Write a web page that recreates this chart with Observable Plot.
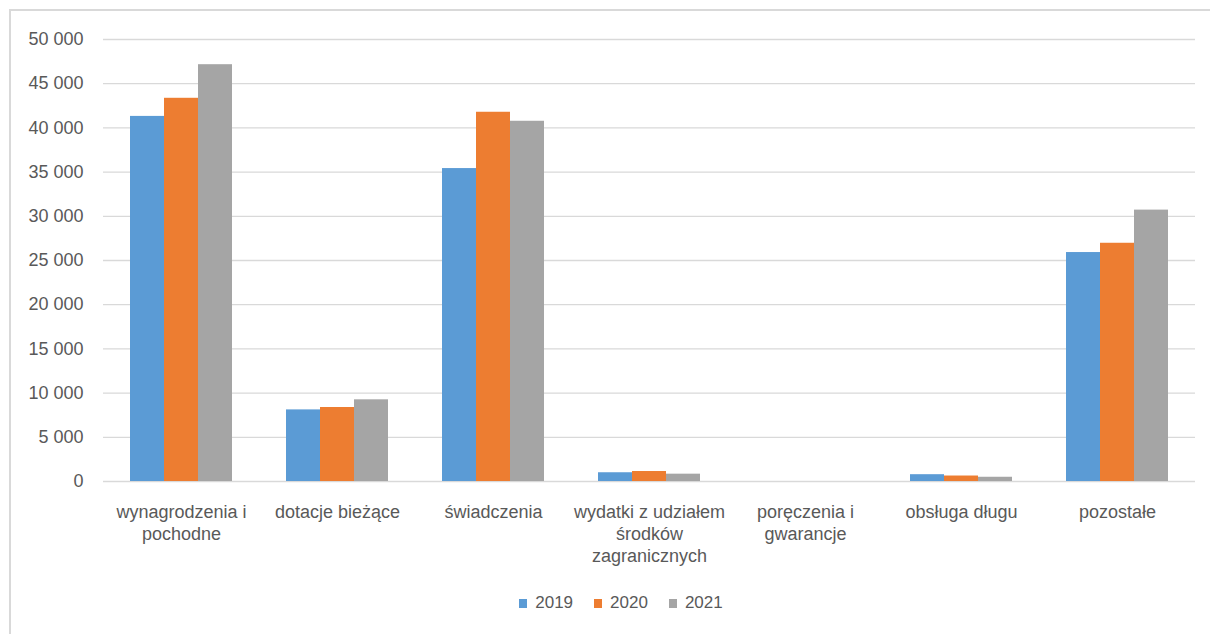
<!DOCTYPE html>
<html>
<head>
<meta charset="utf-8">
<script src="https://cdn.jsdelivr.net/npm/d3@7"></script>
<script src="https://cdn.jsdelivr.net/npm/@observablehq/plot@0.6"></script>
<style>
  html, body { margin: 0; padding: 0; background: #fff; width: 1210px; height: 634px; overflow: hidden; }
  #frame { position: absolute; left: 9px; top: 9px; width: 1300px; height: 700px;
           border-left: 2px solid #d9d9d9; border-top: 2px solid #d9d9d9; }
  #chart { position: absolute; left: 0; top: 0; }
  #legend { position: absolute; left: 0; top: 593px; width: 1242px; display: flex; justify-content: center;
            font-family: "Liberation Sans", Arial, sans-serif; font-size: 17px; color: #595959; }
  .item { display: flex; align-items: center; }
  .item + .item { margin-left: 21px; }
  .sw { width: 8px; height: 9px; margin-right: 8px; }
</style>
</head>
<body>
<div id="frame"></div>
<div id="chart"></div>
<div id="legend"></div>
<script>
const categories = ["wynagrodzenia i pochodne", "dotacje bieżące", "świadczenia",
  "wydatki z udziałem środków zagranicznych", "poręczenia i gwarancje", "obsługa długu", "pozostałe"];
const categoryLabels = ["wynagrodzenia i\npochodne", "dotacje bieżące", "świadczenia",
  "wydatki z udziałem\nśrodków\nzagranicznych", "poręczenia i\ngwarancje", "obsługa długu", "pozostałe"];
const years = ["2019", "2020", "2021"];
const values2019 = [41300, 8100, 35400, 990, 0, 770, 25900];
const values2020 = [43350, 8370, 41770, 1130, 0, 620, 26950];
const values2021 = [47150, 9240, 40750, 830, 0, 480, 30700];
const yTicks = [0, 5000, 10000, 15000, 20000, 25000, 30000, 35000, 40000, 45000, 50000];
const colors = ["#5b9bd5", "#ed7d31", "#a5a5a5"];

const series = [values2019, values2020, values2021];
const rows = [];
categories.forEach((c, i) => years.forEach((y, j) => rows.push({category: c, year: y, value: series[j][i]})));
const labelOf = new Map(categories.map((c, i) => [c, categoryLabels[i]]));
const fmt = d => d3.format(",")(d).replace(/,/g, "\u00a0");

const chart = Plot.plot({
  width: 1210,
  height: 580,
  marginTop: 39,
  marginBottom: 99,
  marginLeft: 102,
  marginRight: 15,
  style: {fontFamily: "Liberation Sans, Arial, sans-serif", fontSize: "18px", color: "#595959", background: "transparent"},
  fx: {domain: categories, padding: 0, axis: null, label: null},
  x: {domain: years, paddingInner: 0, paddingOuter: 0.77, axis: null, label: null},
  y: {domain: [0, 50000], axis: null, label: null},
  color: {domain: years, range: colors},
  marks: [
    Plot.gridY(yTicks, {stroke: "#d9d9d9", strokeOpacity: 1, strokeWidth: 1.3}),
    Plot.barY(rows, {fx: "category", x: "year", y: "value", fill: "year"}),
    Plot.axisY(yTicks, {tickSize: 0, tickPadding: 20, tickFormat: fmt, label: null, fontSize: 18}),
    Plot.axisFx({anchor: "bottom", tickSize: 0, tickPadding: 21, tickFormat: d => labelOf.get(d), label: null, lineHeight: 1.22, fontSize: 18})
  ]
});
document.getElementById("chart").appendChild(chart);

const legend = document.getElementById("legend");
years.forEach((y, i) => {
  const item = document.createElement("div");
  item.className = "item";
  const sw = document.createElement("span");
  sw.className = "sw";
  sw.style.background = colors[i];
  const t = document.createElement("span");
  t.textContent = y;
  item.appendChild(sw);
  item.appendChild(t);
  legend.appendChild(item);
});
</script>
</body>
</html>
